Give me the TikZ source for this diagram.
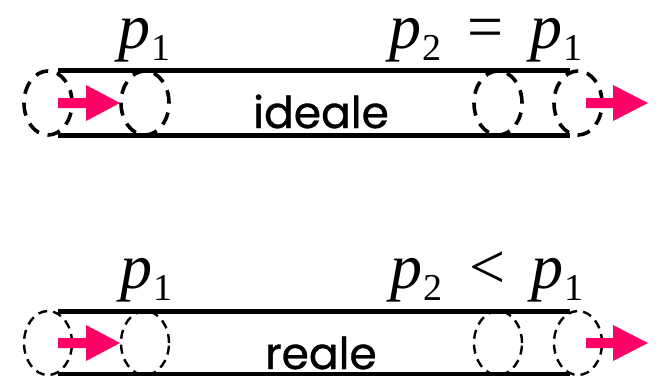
\documentclass[tikz,border=0pt]{standalone}
\usepackage{fontspec}
\setmainfont{Liberation Serif}
\newfontfamily\serifit{Liberation Serif Italic}
\newfontfamily\comicfont[FakeBold=0.8]{Poppins}
\usetikzlibrary{shapes.geometric}
\definecolor{hotpink}{HTML}{FF0066}
\newcommand\psub[1]{{\serifit p}\kern1pt\raisebox{-0.2em}{\fontsize{38}{38}\selectfont #1}}
\begin{document}
\begin{tikzpicture}[x=1pt,y=-1pt,
  pipe/.style={line width=5pt},
  bubA/.style={draw, ellipse, dash pattern=on 13pt off 9pt, line width=3.6pt, minimum width=48pt, minimum height=64pt, inner sep=0pt},
  bubB/.style={draw, ellipse, dash pattern=on 9pt off 6pt, line width=2.4pt, minimum width=48pt, minimum height=64pt, inner sep=0pt},
  flow/.style={fill=hotpink},
  lab/.style={font=\fontsize{64}{64}\selectfont, inner sep=0pt, anchor=base west, text height=32pt},
  word/.style={font=\comicfont\fontsize{44}{44}\selectfont, inner sep=0pt, anchor=base west}]
\useasboundingbox (0,0) rectangle (658,375);
% ---- ideal ----
\node[bubA] (a1) at (48,103) {};
\node[bubA] (a2) at (145,103) {};
\node[bubA] (a3) at (498,103) {};
\node[bubA] (a4) at (578,103) {};
\coordinate (at1) at (58,70); \coordinate (at2) at (570,70);
\coordinate (ab1) at (58,135); \coordinate (ab2) at (570,135);
\draw[pipe] (at1) -- (at2);
\draw[pipe] (ab1) -- (ab2);
\fill[flow] (58,98) -- (86,98) -- (86,85) -- (120,103) -- (86,121) -- (86,108) -- (58,108) -- cycle;
\fill[flow] (586,98) -- (613,98) -- (613,85) -- (648,103) -- (613,121) -- (613,108) -- (586,108) -- cycle;
\node[lab] (l1) at (118,48) {\psub{1}};
\node[lab] (l2) at (389,48) {\psub{2}\hspace{26pt}=\hspace{27pt}\psub{1}};
\node[word] (w1) at (253,128) {ideale};
% ---- real ----
\node[bubB] (b1) at (48,343) {};
\node[bubB] (b2) at (145,343) {};
\node[bubB] (b3) at (498,343) {};
\node[bubB] (b4) at (578,343) {};
\coordinate (bt1) at (58,311); \coordinate (bt2) at (570,311);
\coordinate (bb1) at (58,374); \coordinate (bb2) at (570,374);
\draw[pipe] (bt1) -- (bt2);
\draw[pipe] (bb1) -- (bb2);
\fill[flow] (58,338) -- (86,338) -- (86,325) -- (120,343) -- (86,361) -- (86,348) -- (58,348) -- cycle;
\fill[flow] (586,338) -- (613,338) -- (613,325) -- (648,343) -- (613,361) -- (613,348) -- (586,348) -- cycle;
\node[lab] (l3) at (120,288) {\psub{1}};
\node[lab] (l4) at (390,288) {\psub{2}\hspace{27pt}<\hspace{26pt}\psub{1}};
\node[word] (w2) at (265,369) {reale};
\end{tikzpicture}
\end{document}
